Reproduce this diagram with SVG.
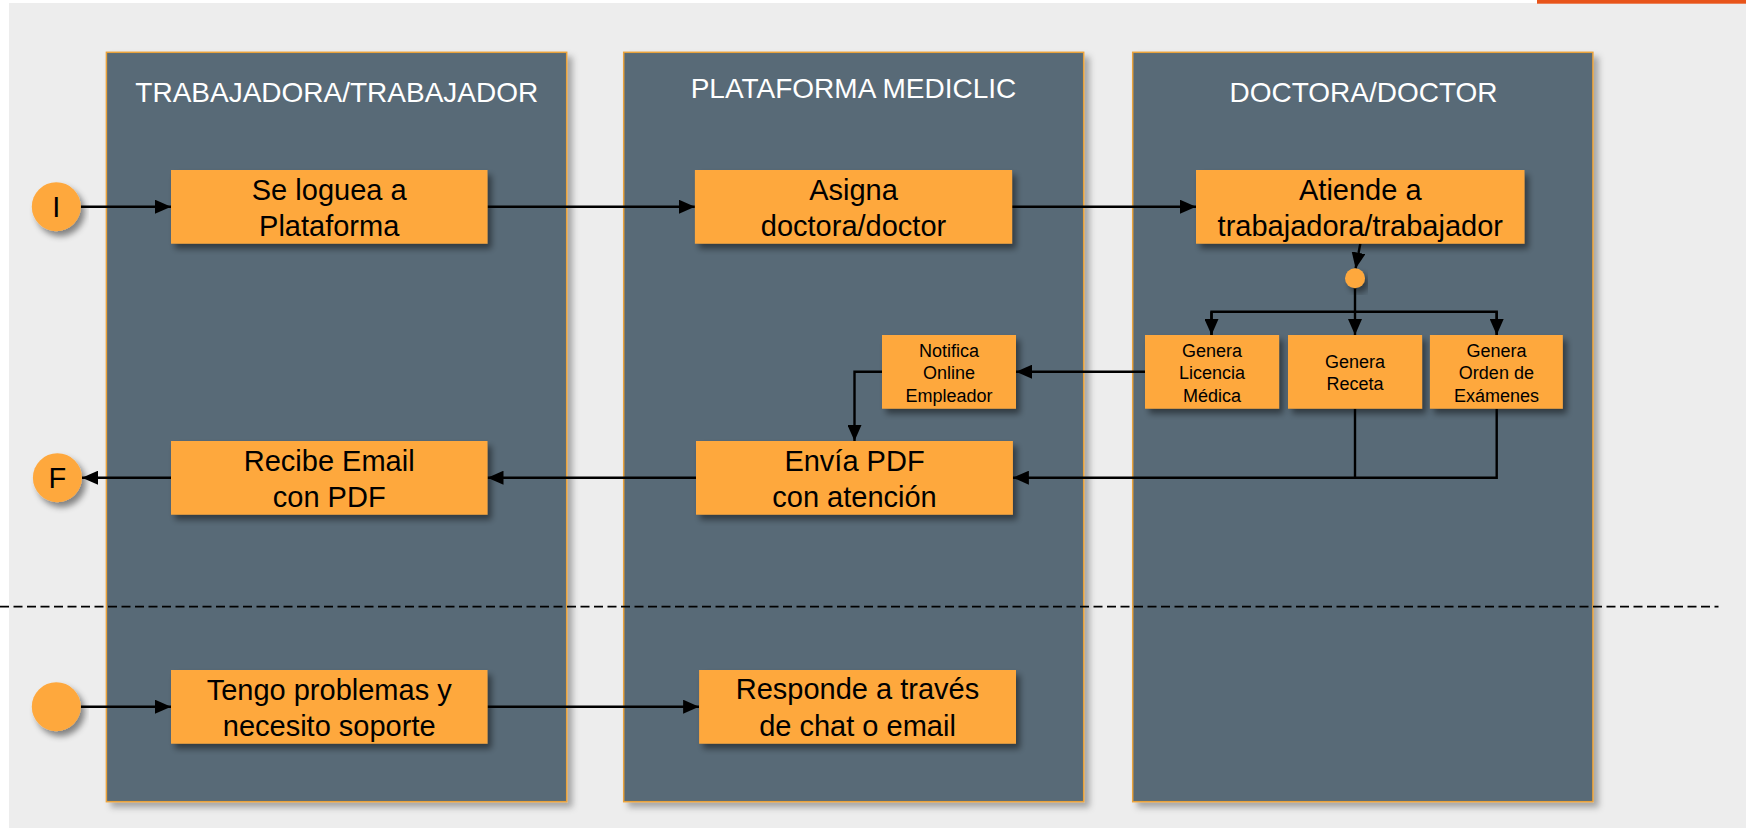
<svg xmlns="http://www.w3.org/2000/svg" width="1746" height="828" viewBox="0 0 1746 828">
<style>
.lane{fill:#596A77;stroke:#E9A23B;stroke-width:1.5}
.box{fill:#FEA83E}
.title{font-family:"Liberation Sans",Arial,sans-serif;font-size:28px;fill:#FFFFFF;text-anchor:middle}
.t{font-family:"Liberation Sans",Arial,sans-serif;font-size:29px;fill:#000;text-anchor:middle}
.s{font-family:"Liberation Sans",Arial,sans-serif;font-size:18px;fill:#000;text-anchor:middle}
.c{fill:none;stroke:#000;stroke-width:2.4}
</style>
<defs>
<filter id="lsh" x="-5%" y="-5%" width="115%" height="115%"><feDropShadow dx="5" dy="5" stdDeviation="3" flood-color="#000" flood-opacity="0.3"/></filter>
<filter id="bsh" x="-10%" y="-20%" width="125%" height="150%"><feDropShadow dx="4" dy="5" stdDeviation="3" flood-color="#000" flood-opacity="0.45"/></filter>
<marker id="ah" markerUnits="userSpaceOnUse" markerWidth="16" markerHeight="14" viewBox="0 0 16 14" refX="16" refY="7" orient="auto"><path d="M0,0 L16,7 L0,14 z" fill="#000"/></marker>
</defs>
<rect x="0" y="0" width="1746" height="828" fill="#FFFFFF"/>
<rect x="9" y="3" width="1737" height="825" fill="#EDEDED"/>
<rect x="1537" y="0" width="209" height="3.7" fill="#E8541A"/>

<g id="lane-trabajador">
<rect class="lane" x="106.4" y="52.3" width="460.3" height="749.4" filter="url(#lsh)"/>
<text class="title" x="336.8" y="101.7">TRABAJADORA/TRABAJADOR</text>
</g>
<g id="lane-plataforma">
<rect class="lane" x="623.7" y="52.3" width="460" height="749.4" filter="url(#lsh)"/>
<text class="title" x="853.5" y="98.3">PLATAFORMA MEDICLIC</text>
</g>
<g id="lane-doctor">
<rect class="lane" x="1132.7" y="52.3" width="460.2" height="749.4" filter="url(#lsh)"/>
<text class="title" x="1363.5" y="101.7">DOCTORA/DOCTOR</text>
</g>

<g id="connectors">
<line class="c" x1="80.8" y1="206.7" x2="171" y2="206.7" marker-end="url(#ah)"/>
<line class="c" x1="487.5" y1="206.7" x2="694.9" y2="206.7" marker-end="url(#ah)"/>
<line class="c" x1="1012.1" y1="206.7" x2="1196" y2="206.7" marker-end="url(#ah)"/>
<line class="c" x1="1360.3" y1="243.7" x2="1355.6" y2="268.5" marker-end="url(#ah)"/>
<line class="c" x1="1355" y1="287" x2="1355" y2="311.7"/>
<path class="c" d="M1211.5,335 V311.7 H1496.7 V335"/>
<line class="c" x1="1211.5" y1="311.7" x2="1211.5" y2="335" marker-end="url(#ah)"/>
<line class="c" x1="1355" y1="311.7" x2="1355" y2="335" marker-end="url(#ah)"/>
<line class="c" x1="1496.7" y1="311.7" x2="1496.7" y2="335" marker-end="url(#ah)"/>
<line class="c" x1="1145" y1="371.7" x2="1016" y2="371.7" marker-end="url(#ah)"/>
<path class="c" d="M882,371.7 H854.5 V441" marker-end="url(#ah)"/>
<path class="c" d="M1355,408.7 V477.7"/>
<path class="c" d="M1496.7,408.7 V477.7 H1012.9" marker-end="url(#ah)"/>
<line class="c" x1="696" y1="477.7" x2="487.5" y2="477.7" marker-end="url(#ah)"/>
<line class="c" x1="171" y1="477.7" x2="82" y2="477.7" marker-end="url(#ah)"/>
<line class="c" x1="80.8" y1="706.7" x2="171" y2="706.7" marker-end="url(#ah)"/>
<line class="c" x1="487.5" y1="706.7" x2="699.1" y2="706.7" marker-end="url(#ah)"/>
<line x1="0" y1="606.7" x2="1718.5" y2="606.7" stroke="#000" stroke-width="1.7" stroke-dasharray="9,4.5"/>
</g>

<g id="start-I">
<circle class="box" cx="56.3" cy="206.7" r="24.5" filter="url(#bsh)"/>
<text class="t" x="56.3" y="217">I</text>
</g>
<g id="end-F">
<circle class="box" cx="57.4" cy="477.7" r="24.5" filter="url(#bsh)"/>
<text class="t" x="57.4" y="488">F</text>
</g>
<g id="start-support">
<circle class="box" cx="56.3" cy="706.7" r="24.5" filter="url(#bsh)"/>
</g>
<g id="junction">
<circle class="box" cx="1355" cy="278.3" r="10" filter="url(#bsh)"/>
</g>

<g id="n-loguea">
<rect class="box" x="171" y="170" width="316.5" height="73.7" filter="url(#bsh)"/>
<text class="t" x="329.2" y="200">Se loguea a</text>
<text class="t" x="329.2" y="235.7">Plataforma</text>
</g>
<g id="n-asigna">
<rect class="box" x="694.9" y="170" width="317.2" height="73.7" filter="url(#bsh)"/>
<text class="t" x="853.5" y="200">Asigna</text>
<text class="t" x="853.5" y="235.7">doctora/doctor</text>
</g>
<g id="n-atiende">
<rect class="box" x="1196" y="170" width="328.5" height="73.7" filter="url(#bsh)"/>
<text class="t" x="1360.3" y="200">Atiende a</text>
<text class="t" x="1360.3" y="235.7">trabajadora/trabajador</text>
</g>
<g id="n-licencia">
<rect class="box" x="1145" y="335" width="134.1" height="73.7" filter="url(#bsh)"/>
<text class="s" x="1212" y="357.3">Genera</text>
<text class="s" x="1212" y="379.3">Licencia</text>
<text class="s" x="1212" y="401.7">Médica</text>
</g>
<g id="n-receta">
<rect class="box" x="1288" y="335" width="134.1" height="73.7" filter="url(#bsh)"/>
<text class="s" x="1355" y="368.3">Genera</text>
<text class="s" x="1355" y="390">Receta</text>
</g>
<g id="n-orden">
<rect class="box" x="1429.9" y="335" width="132.9" height="73.7" filter="url(#bsh)"/>
<text class="s" x="1496.4" y="357.3">Genera</text>
<text class="s" x="1496.4" y="379.3">Orden de</text>
<text class="s" x="1496.4" y="401.7">Exámenes</text>
</g>
<g id="n-notifica">
<rect class="box" x="882" y="335" width="134" height="73.7" filter="url(#bsh)"/>
<text class="s" x="949" y="357.3">Notifica</text>
<text class="s" x="949" y="379.3">Online</text>
<text class="s" x="949" y="401.7">Empleador</text>
</g>
<g id="n-envia">
<rect class="box" x="696" y="441" width="316.9" height="73.7" filter="url(#bsh)"/>
<text class="t" x="854.5" y="471">Envía PDF</text>
<text class="t" x="854.5" y="506.7">con atención</text>
</g>
<g id="n-recibe">
<rect class="box" x="171" y="441" width="316.5" height="73.7" filter="url(#bsh)"/>
<text class="t" x="329.2" y="471">Recibe Email</text>
<text class="t" x="329.2" y="506.7">con PDF</text>
</g>
<g id="n-tengo">
<rect class="box" x="171" y="670" width="316.5" height="73.7" filter="url(#bsh)"/>
<text class="t" x="329.2" y="700">Tengo problemas y</text>
<text class="t" x="329.2" y="735.7">necesito soporte</text>
</g>
<g id="n-responde">
<rect class="box" x="699.1" y="670" width="316.9" height="73.7" filter="url(#bsh)"/>
<text class="t" x="857.5" y="699.3">Responde a través</text>
<text class="t" x="857.5" y="735.7">de chat o email</text>
</g>
</svg>
